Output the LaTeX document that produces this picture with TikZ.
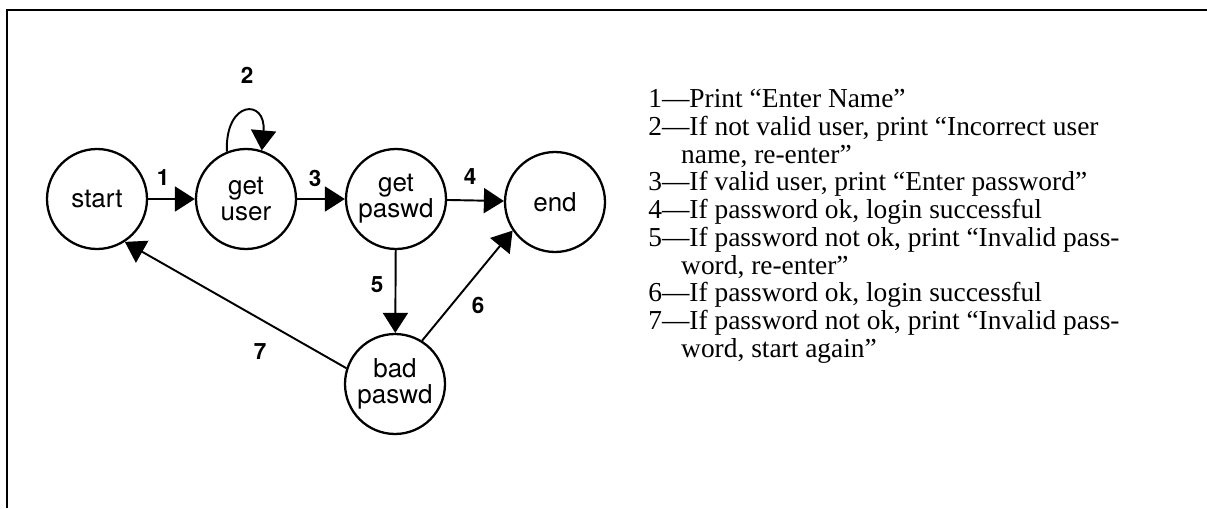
\documentclass[tikz,border=0pt]{standalone}
\usepackage{fontspec}
\setmainfont{Liberation Serif}
\newfontfamily\helv{TeX Gyre Heros}
\usetikzlibrary{positioning, arrows.meta}
\tikzset{
    state/.style={circle, draw, line width=1.3pt, minimum size=2cm, inner sep=0pt, align=center, font=\helv\fontsize{14.8}{14.8}\selectfont},
    numlabel/.style={font=\helv\bfseries\fontsize{12.8}{12.8}\selectfont},
    arrow/.style={-{Triangle[length=0.4cm, width=0.5cm]}, line width=1.1pt},
    notes/.style={align=left, anchor=north west, inner sep=0pt, font=\fontsize{15.6}{15.8}\selectfont},
}
\begin{document}
\begin{tikzpicture}[x=0.02cm, y=0.02cm]
    \useasboundingbox (0,0) rectangle (1207,508);
    % frame
    \draw[line width=1.2pt] (7,0) -- (7,498) -- (1207,498);

    % states
    \node[state] (start) at (97,309) {start};
    \node[state] (getuser) at (246,309) {get\\user};
    \node[state] (getpaswd) at (396,309) {get\\paswd};
    \node[state] (end) at (555,306) {end};
    \node[state] (badpaswd) at (395,124) {bad\\paswd};

    % transitions
    \draw[arrow] (start) -- (getuser);
    \draw[arrow] (getuser.112) .. controls +(92:52) and +(85:52) .. (getuser.72);
    \draw[arrow] (getuser) -- (getpaswd);
    \draw[arrow] (getpaswd) -- (end);
    \draw[arrow] (getpaswd) -- (badpaswd);
    \draw[arrow] (badpaswd.58) -- (end.214);
    \draw[arrow] (badpaswd.162) -- (start.-57);

    % transition numbers
    \node[numlabel] (n1) at (163,330) {1};
    \node[numlabel] (n2) at (247,433) {2};
    \node[numlabel] (n3) at (315,330) {3};
    \node[numlabel] (n4) at (470,331) {4};
    \node[numlabel] (n5) at (377,223) {5};
    \node[numlabel] (n6) at (478,203) {6};
    \node[numlabel] (n7) at (260,156) {7};

    % legend
    \node[notes] (legend) at (648,419) {%
        1---Print ``Enter Name''\\
        2---If not valid user, print ``Incorrect user\\
        \hspace*{1.2em}name, re-enter''\\
        3---If valid user, print ``Enter password''\\
        4---If password ok, login successful\\
        5---If password not ok, print ``Invalid pass-\\
        \hspace*{1.2em}word, re-enter''\\
        6---If password ok, login successful\\
        7---If password not ok, print ``Invalid pass-\\
        \hspace*{1.2em}word, start again''};
\end{tikzpicture}
\end{document}
